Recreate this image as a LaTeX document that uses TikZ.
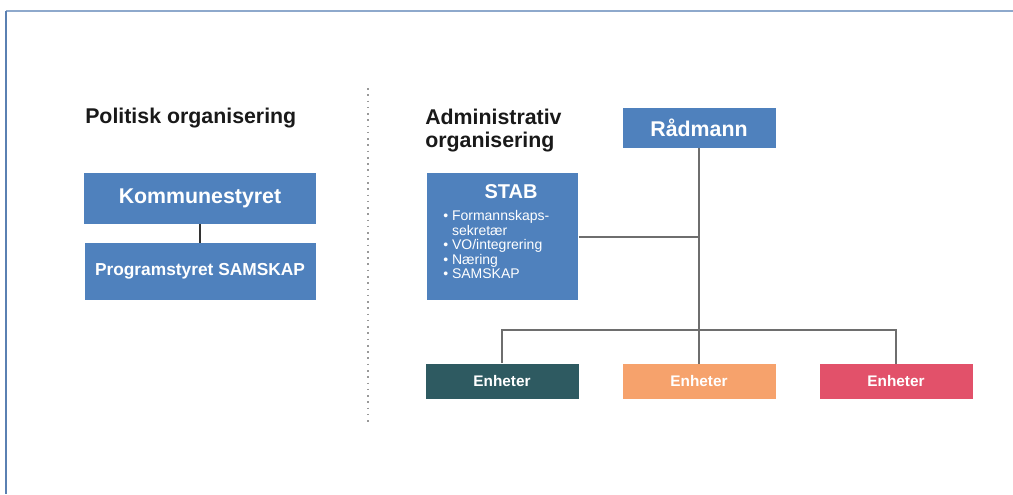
\documentclass[tikz,border=0pt]{standalone}
\usepackage{fontspec}
\setmainfont{Liberation Sans}
\definecolor{boxblue}{HTML}{4F81BD}
\definecolor{teal}{HTML}{2E5A61}
\definecolor{orng}{HTML}{F6A26C}
\definecolor{redb}{HTML}{E2516A}
\definecolor{linegray}{HTML}{6E6E6E}
\definecolor{framea}{HTML}{8EA9CC}
\definecolor{frameb}{HTML}{5A80B2}
\begin{document}
\begin{tikzpicture}[x=0.75pt,y=-0.75pt,
  bluebox/.style={draw=none,fill=boxblue,text=white,font=\bfseries,inner sep=0pt},
  unitbox/.style={draw=none,text=white,font=\bfseries\fontsize{11.5}{13}\selectfont,minimum width=153*0.75pt,minimum height=35*0.75pt,inner sep=0pt},
  heading/.style={font=\bfseries\fontsize{16}{17.3}\selectfont,text=black!90,inner sep=0pt,align=left},
  conn/.style={draw=linegray,line width=0.9pt}]
\useasboundingbox (0,0) rectangle (1013,494);
% frame
\draw[framea,line width=1.5pt] (6,11) -- (1013,11);
\draw[frameb,line width=1.5pt] (6,11) -- (6,494);
% divider
\draw[gray!80,line width=1.4pt,dash pattern=on 1.2pt off 3.5pt] (368,88) -- (368,424);
% left side
\node[heading,anchor=west] (pol) at (85,118) {Politisk organisering};
\node[bluebox,minimum width=232*0.75pt,minimum height=51*0.75pt,font=\bfseries\fontsize{16}{18}\selectfont] (komm) at (200,198) {Kommunestyret};
\node[bluebox,minimum width=231*0.75pt,minimum height=57*0.75pt,font=\bfseries\fontsize{13}{15}\selectfont] (prog) at (200,271.5) {Programstyret SAMSKAP};
\draw[black!80,line width=1.6pt] (komm.south) -- (prog.north);
% right side
\node[heading,anchor=north west] (adm) at (425,109) {Administrativ\\organisering};
\node[bluebox,minimum width=153*0.75pt,minimum height=40*0.75pt,font=\bfseries\fontsize{16}{18}\selectfont] (rad) at (699,128) {Rådmann};
\node[bluebox,minimum width=151*0.75pt,minimum height=127*0.75pt,anchor=north west] (stab) at (427,173) {};
\node[text=white,anchor=north west,inner sep=0pt,align=left,font=\fontsize{10.5}{10.9}\selectfont] (stabtxt) at (443,184) {%
  \hspace*{31pt}{\bfseries\fontsize{15}{16}\selectfont STAB}\\[6pt]
  \textbullet\ Formannskaps-\\
  \phantom{\textbullet\ }sekretær\\
  \textbullet\ VO/integrering\\
  \textbullet\ Næring\\
  \textbullet\ SAMSKAP};
\node[unitbox,fill=teal] (u1) at (502,381) {Enheter};
\node[unitbox,fill=orng] (u2) at (699,381.5) {Enheter};
\node[unitbox,fill=redb] (u3) at (896,381.5) {Enheter};
% connectors
\coordinate (bus) at (699,330);
\draw[conn] (rad.south) -- (u2.north);
\draw[conn] (stab.east |- 0,237) -- (rad |- 0,237);
\draw[conn] (u1.north) |- (bus) -| (u3.north);
\end{tikzpicture}
\end{document}
